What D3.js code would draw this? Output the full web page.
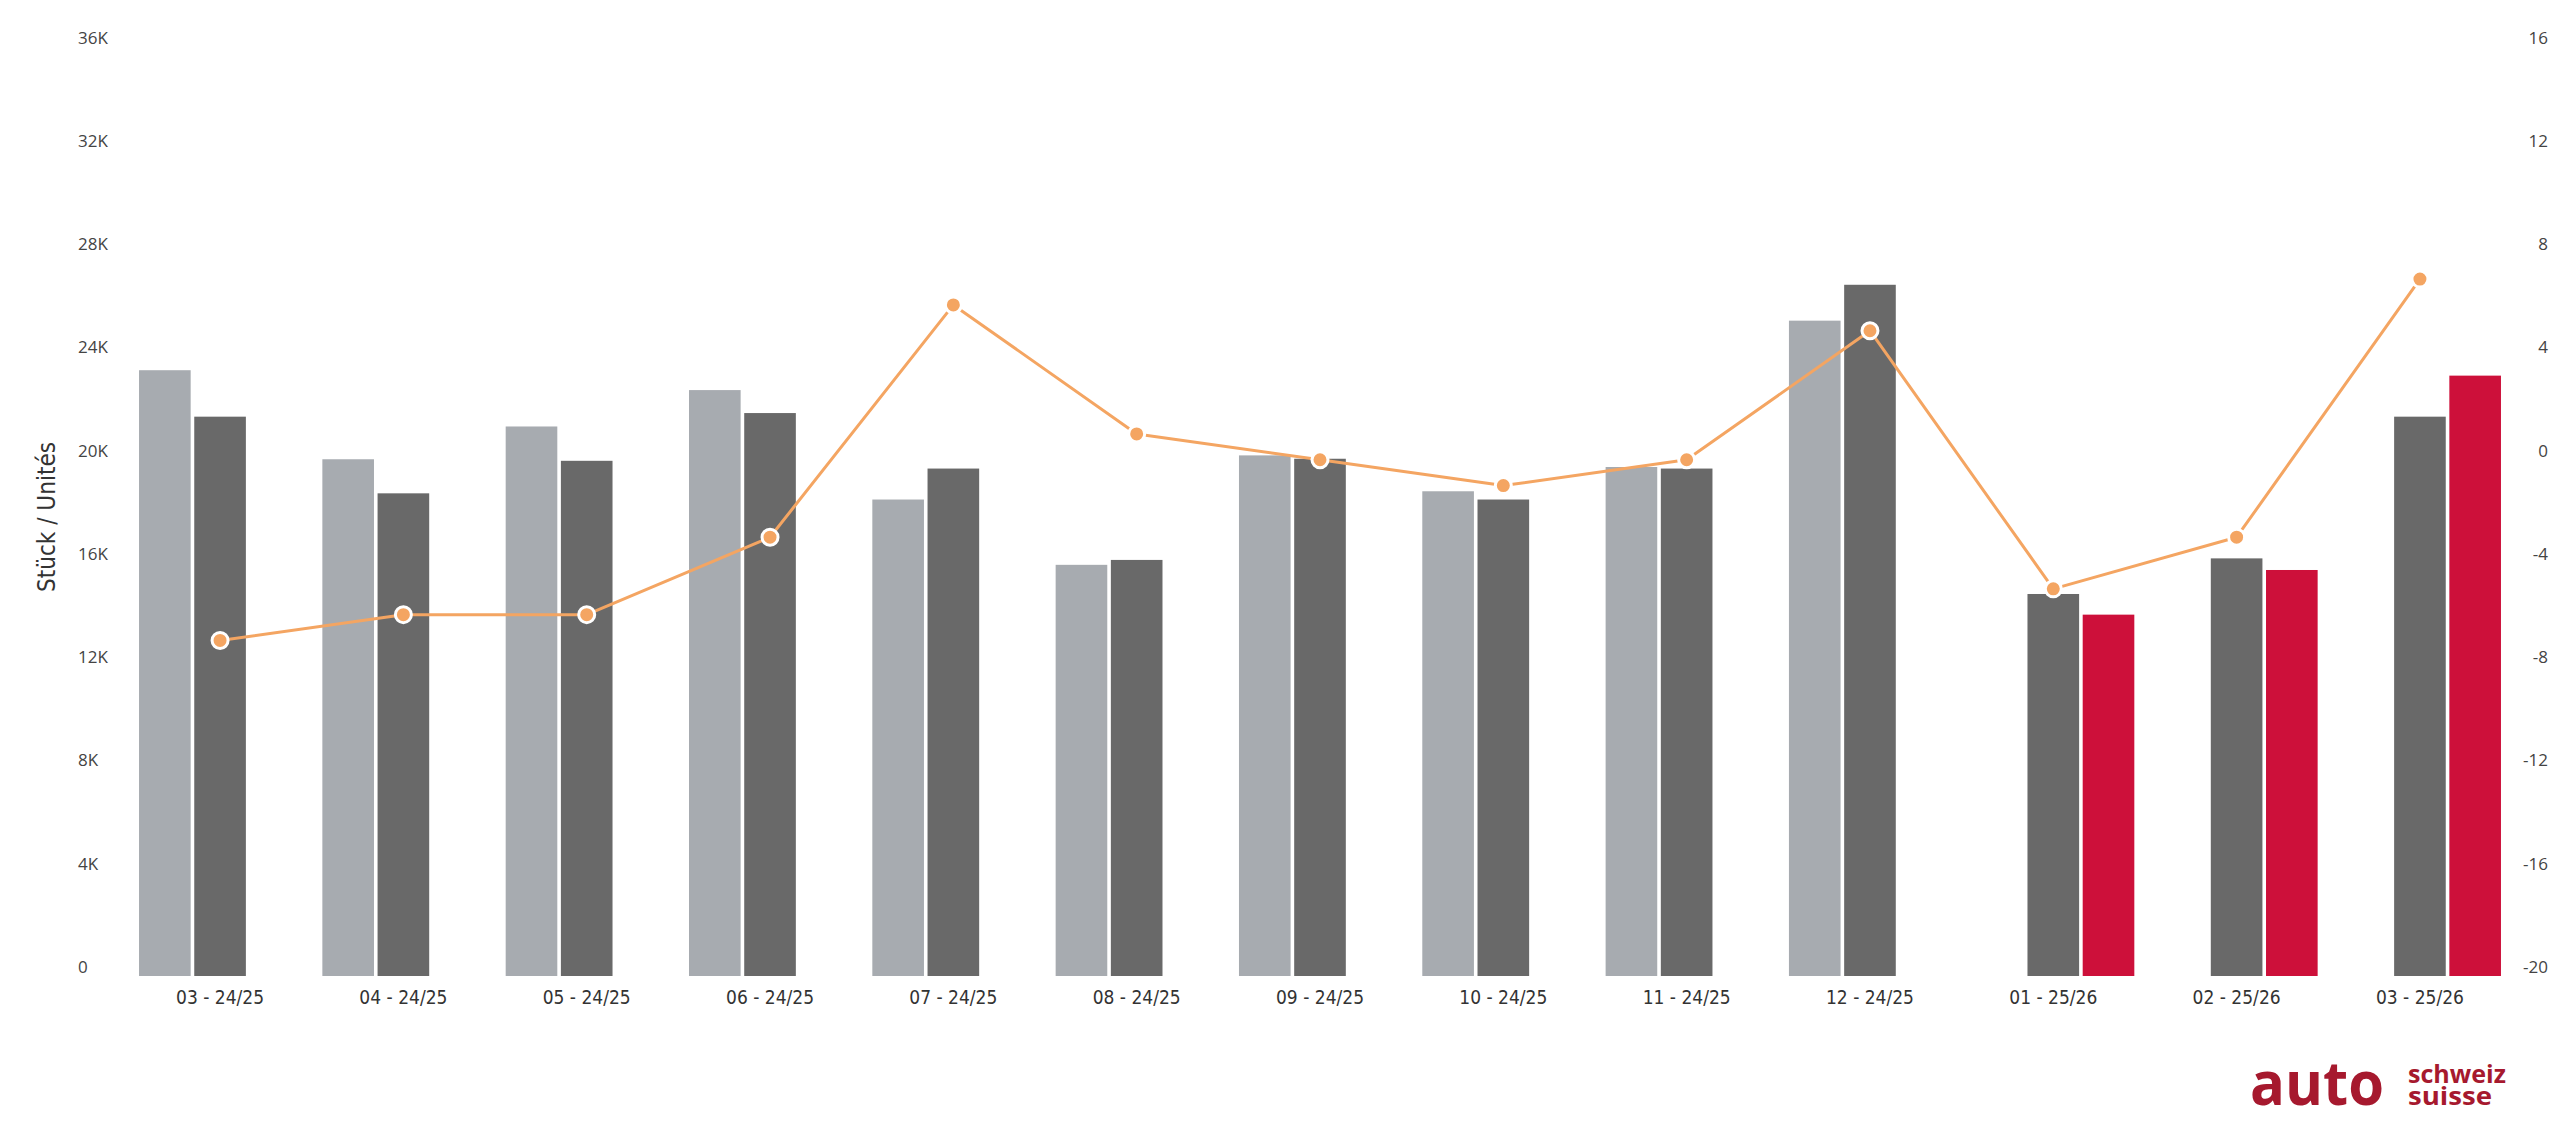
<!DOCTYPE html>
<html>
<head>
<meta charset="utf-8">
<script src="https://cdn.jsdelivr.net/npm/d3@7"></script>
<style>
  html, body { margin: 0; padding: 0; background: #ffffff; }
  svg { display: block; }
  .tick-label { font-family: "Open Sans", "DejaVu Sans", sans-serif; font-size: 17px; fill: #444; }
  .cat-label { font-family: "Liberation Sans Narrow", "DejaVu Sans Condensed", "Open Sans", sans-serif; font-stretch: condensed; font-size: 19px; fill: #333; }
  .axis-title { font-family: "Liberation Sans Narrow", "DejaVu Sans Condensed", "Open Sans", sans-serif; font-stretch: condensed; font-size: 25px; fill: #333; }
</style>
</head>
<body>
<svg id="chart" width="2560" height="1137"></svg>
<script>
// ---- data ----
const categories = ["03 - 24/25", "04 - 24/25", "05 - 24/25", "06 - 24/25", "07 - 24/25", "08 - 24/25",
  "09 - 24/25", "10 - 24/25", "11 - 24/25", "12 - 24/25", "01 - 25/26", "02 - 25/26", "03 - 25/26"];
const seriesNames = ["prev", "curr", "next"];
const prevValues = [23470, 20020, 21290, 22700, 18460, 15930, 20170, 18780, 19720, 25390, null, null, null];
const currValues = [21670, 18700, 19960, 21810, 19660, 16120, 20040, 18460, 19660, 26780, 14800, 16180, 21670];
const nextValues = [null, null, null, null, null, null, null, null, null, null, 14000, 15730, 23260];
const changeValues = [-7, -6, -6, -3, 6, 1, 0, -1, 0, 5, -5, -3, 7];
const leftTicks = [0, 4000, 8000, 12000, 16000, 20000, 24000, 28000, 32000, 36000];
const rightTicks = [-20, -16, -12, -8, -4, 0, 4, 8, 12, 16];
const yTitle = "Stück / Unités";

// ---- styles ----
const colors = { prev: "#a7abb0", curr: "#696969", next: "#cd103a" };
const lineColor = "#f4a562";
const logoColor = "#a6192e";

const svg = d3.select("#chart");
svg.append("rect").attr("width", 2560).attr("height", 1137).attr("fill", "#fff");

const yTop = 46.8, yBottom = 976;
const y = d3.scaleLinear().domain([0, 36000]).range([yBottom, yTop]);
const y2 = d3.scaleLinear().domain([-20, 16]).range([yBottom, yTop]);
const x0 = d3.scaleBand().domain(categories).range([128.4, 2511.6]).paddingInner(0.116).paddingOuter(0.058);
const x1 = d3.scaleBand().domain(seriesNames).range([0, x0.bandwidth()]).paddingInner(0.065);

const seriesData = { prev: prevValues, curr: currValues, next: nextValues };

// bars
seriesNames.forEach(s => {
  svg.append("g").selectAll("rect")
    .data(categories.map((c, i) => ({ c, v: seriesData[s][i] })).filter(d => d.v != null))
    .join("rect")
    .attr("x", d => x0(d.c) + x1(s))
    .attr("y", d => y(d.v))
    .attr("width", x1.bandwidth())
    .attr("height", d => y(0) - y(d.v))
    .attr("fill", colors[s]);
});

// left axis labels
const leftAxis = svg.append("g");
leftAxis.selectAll("text").data(leftTicks).join("text")
  .attr("class", "tick-label")
  .attr("x", 78)
  .attr("y", d => y(d) - 3.2)
  .attr("text-anchor", "start")
  .text(d => d === 0 ? "0" : (d / 1000) + "K");

// right axis labels
const rightAxis = svg.append("g");
rightAxis.selectAll("text").data(rightTicks).join("text")
  .attr("class", "tick-label")
  .attr("x", 2548)
  .attr("y", d => y2(d) - 3.2)
  .attr("text-anchor", "end")
  .text(d => String(d));

// category labels
const xAxis = d3.axisBottom(x0).tickSize(0).tickPadding(0);
const gx = svg.append("g").attr("transform", `translate(0,${yBottom})`).call(xAxis);
gx.select(".domain").remove();
gx.selectAll("text").attr("class", "cat-label").attr("y", 28).attr("dy", 0)
  .attr("font-family", null).attr("font-size", null).attr("fill", null);

// axis title
svg.append("text").attr("class", "axis-title")
  .attr("transform", "translate(55,517) rotate(-90)")
  .attr("text-anchor", "middle")
  .attr("textLength", 150).attr("lengthAdjust", "spacingAndGlyphs")
  .text(yTitle);

// line
const cx = c => x0(c) + x1("curr") + x1.bandwidth() / 2;
const line = d3.line().x((d, i) => cx(categories[i])).y(d => y2(d));
svg.append("path").datum(changeValues)
  .attr("d", line).attr("fill", "none")
  .attr("stroke", lineColor).attr("stroke-width", 3).attr("stroke-linejoin", "round");
svg.append("g").selectAll("circle").data(changeValues).join("circle")
  .attr("cx", (d, i) => cx(categories[i]))
  .attr("cy", d => y2(d))
  .attr("r", 8)
  .attr("fill", lineColor)
  .attr("stroke", "#fff").attr("stroke-width", 3);

// logo
const logo = svg.append("g").attr("fill", logoColor).attr("font-family", "'Open Sans', 'Noto Sans', sans-serif").attr("font-weight", 700);
logo.append("text").attr("x", 2250).attr("y", 1105).attr("font-size", 60).attr("textLength", 134).attr("lengthAdjust", "spacingAndGlyphs").text("auto");
const sub = logo.append("text").attr("font-size", 25);
sub.append("tspan").attr("x", 2408).attr("y", 1083).attr("textLength", 98).attr("lengthAdjust", "spacingAndGlyphs").text("schweiz");
sub.append("tspan").attr("x", 2408).attr("y", 1105).attr("textLength", 84).attr("lengthAdjust", "spacingAndGlyphs").text("suisse");
</script>
</body>
</html>
